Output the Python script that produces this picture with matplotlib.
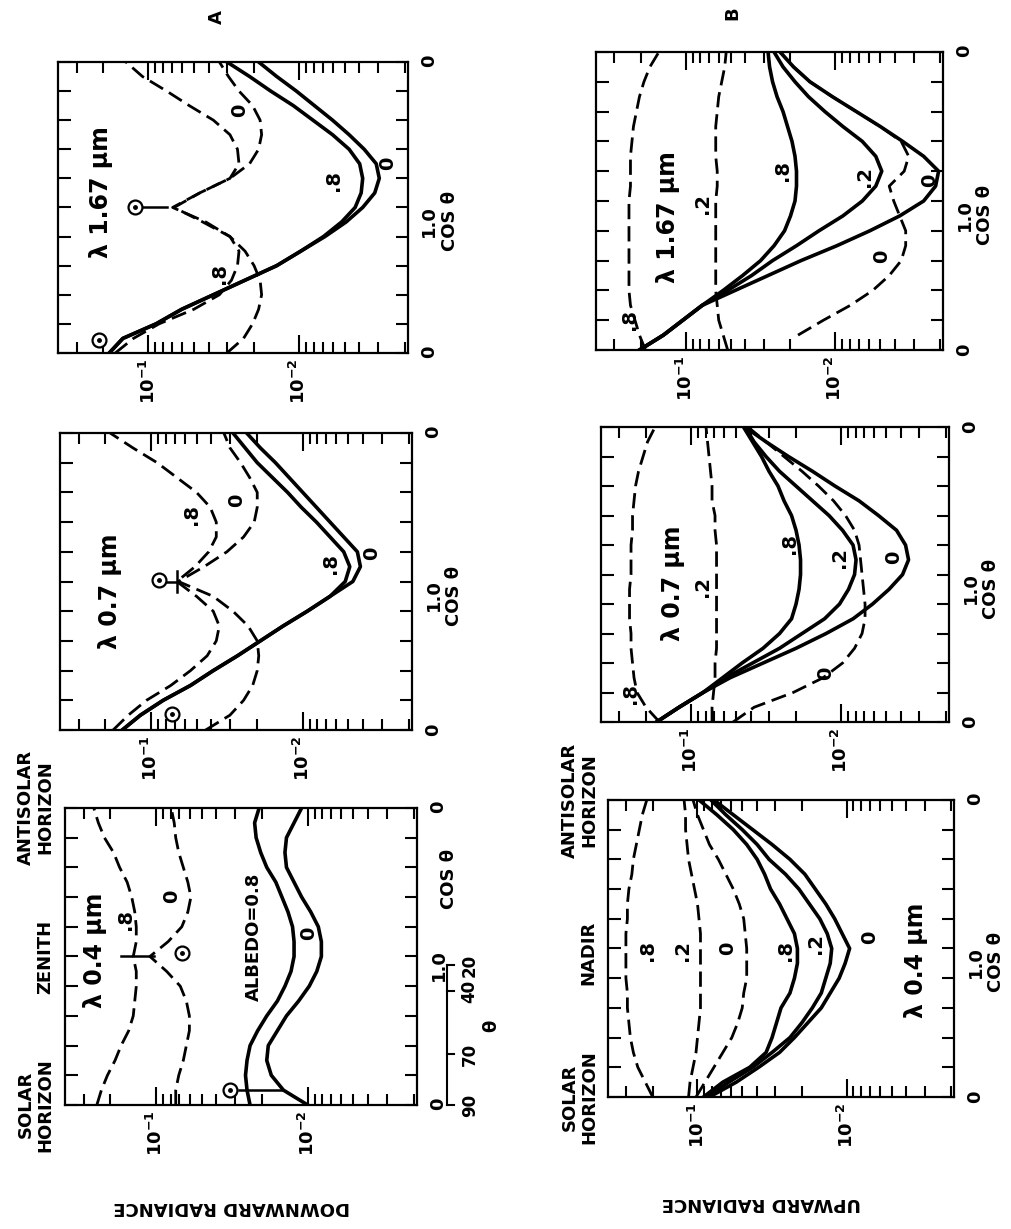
import numpy as np
import matplotlib
matplotlib.use('Agg')
import matplotlib.pyplot as plt
from matplotlib.ticker import LogLocator, MultipleLocator, NullFormatter

plt.rcParams['font.family'] = ['DejaVu Sans']
plt.rcParams['font.weight'] = 'bold'
plt.rcParams['mathtext.default'] = 'bf'

# position along the scan: 0 = solar horizon, 1 = zenith (nadir), 2 = antisolar horizon
pos = [0.0, 0.1, 0.2, 0.3, 0.4, 0.5, 0.6, 0.7, 0.8, 0.9, 1.0,
       1.1, 1.2, 1.3, 1.4, 1.5, 1.6, 1.7, 1.8, 1.9, 2.0]

# ---- A: downward radiance, log10 values ----
dn167_dash8 = [-0.78, -0.90, -1.07, -1.30, -1.47, -1.55, -1.59, -1.60, -1.54, -1.38, -1.16,
               -1.34, -1.54, -1.60, -1.59, -1.54, -1.43, -1.27, -1.12, -0.96, -0.85]
dn167_dash0 = [-1.52, -1.63, -1.69, -1.73, -1.75, -1.74, -1.70, -1.64, -1.54, -1.36, -1.17,
               -1.34, -1.54, -1.67, -1.73, -1.75, -1.74, -1.69, -1.60, -1.53, -1.47]
dn167_line8 = [-0.74, -0.83, -1.05, -1.22, -1.43, -1.64, -1.85, -2.01, -2.16, -2.28, -2.37,
               -2.41, -2.42, -2.40, -2.33, -2.22, -2.09, -1.96, -1.81, -1.67, -1.52]
dn167_line0 = [-0.74, -0.83, -1.05, -1.22, -1.43, -1.64, -1.85, -2.01, -2.17, -2.31, -2.42,
               -2.50, -2.53, -2.51, -2.43, -2.33, -2.22, -2.10, -1.98, -1.85, -1.73]

dn07_dash8 = [-0.75, -0.85, -0.97, -1.13, -1.26, -1.37, -1.43, -1.45, -1.41, -1.30, -1.17,
              -1.29, -1.38, -1.43, -1.43, -1.39, -1.30, -1.17, -1.04, -0.88, -0.73]
dn07_dash0 = [-1.36, -1.52, -1.61, -1.67, -1.70, -1.71, -1.70, -1.64, -1.54, -1.41, -1.18,
              -1.35, -1.50, -1.61, -1.68, -1.70, -1.70, -1.65, -1.59, -1.52, -1.48]
dn07_line8 = [-0.81, -0.93, -1.08, -1.26, -1.41, -1.57, -1.72, -1.87, -2.03, -2.18, -2.28,
              -2.31, -2.27, -2.18, -2.09, -1.99, -1.90, -1.80, -1.70, -1.62, -1.54]
dn07_line0 = [-0.81, -0.93, -1.08, -1.26, -1.41, -1.57, -1.72, -1.87, -2.03, -2.18, -2.33,
              -2.38, -2.36, -2.27, -2.18, -2.09, -2.00, -1.91, -1.82, -1.72, -1.63]

dn04_dash8 = [-0.61, -0.64, -0.68, -0.73, -0.77, -0.82, -0.85, -0.86, -0.87, -0.87, -0.85,
              -0.87, -0.87, -0.86, -0.84, -0.81, -0.76, -0.72, -0.66, -0.62, -0.59]
dn04_dash0 = [-1.13, -1.13, -1.15, -1.18, -1.20, -1.22, -1.22, -1.20, -1.16, -1.07, -0.96,
              -1.08, -1.17, -1.21, -1.23, -1.21, -1.18, -1.15, -1.13, -1.12, -1.10]
dn04_line8 = [-1.62, -1.60, -1.59, -1.60, -1.62, -1.67, -1.73, -1.80, -1.85, -1.89, -1.91,
              -1.91, -1.90, -1.87, -1.83, -1.79, -1.73, -1.69, -1.66, -1.65, -1.68]
dn04_line0 = [-2.00, -1.84, -1.76, -1.73, -1.74, -1.80, -1.86, -1.94, -2.01, -2.06, -2.09,
              -2.09, -2.07, -2.02, -1.96, -1.91, -1.86, -1.85, -1.86, -1.91, -1.96]

# sun positions (position, log10 radiance) and the short bars to the curves
sun167_pos = [0.09, 1.0]
sun167_log = [-0.67, -0.91]
bar167_log = [-0.96, -1.12]
sun07_pos = [0.11, 1.01]
sun07_log = [-1.14, -1.05]
bar07_log = [-1.08, -1.17]
sun04_pos = [0.10, 1.02]
sun04_log = [-1.49, -1.17]
bar04_log = [-0.77, -0.99]
bar04b_log = [-1.55, -1.84]

# ---- B: upward radiance, log10 values ----
up167_dash8 = [-0.73, -0.69, -0.66, -0.63, -0.62, -0.62, -0.62, -0.62, -0.62, -0.62, -0.62,
               -0.63, -0.63, -0.63, -0.64, -0.65, -0.67, -0.69, -0.72, -0.76, -0.82]
up167_dash2 = [-1.28, -1.25, -1.22, -1.21, -1.20, -1.20, -1.20, -1.20, -1.20, -1.20, -1.20,
               -1.21, -1.21, -1.20, -1.20, -1.20, -1.21, -1.22, -1.24, -1.26, -1.27]
up167_dash0 = [np.nan, -1.75, -1.92, -2.10, -2.25, -2.36, -2.44, -2.47, -2.47, -2.43, -2.39,
               -2.36, -2.46, -2.49, -2.44, -2.30, -2.14, -1.98, -1.83, -1.72, -1.63]
up167_line8 = [-0.69, -0.85, -0.98, -1.11, -1.25, -1.38, -1.50, -1.59, -1.66, -1.70, -1.73,
               -1.74, -1.74, -1.73, -1.71, -1.68, -1.65, -1.61, -1.58, -1.56, -1.55]
up167_line2 = [-0.69, -0.85, -0.98, -1.11, -1.28, -1.44, -1.58, -1.74, -1.89, -2.05, -2.18,
               -2.27, -2.31, -2.27, -2.18, -2.05, -1.93, -1.82, -1.73, -1.65, -1.59]
up167_line0 = [-0.69, -0.85, -0.98, -1.11, -1.33, -1.55, -1.77, -2.01, -2.23, -2.43, -2.59,
               -2.67, -2.69, -2.59, -2.45, -2.30, -2.14, -1.98, -1.83, -1.72, -1.63]

up07_dash8 = [-0.79, -0.70, -0.64, -0.62, -0.61, -0.60, -0.60, -0.59, -0.59, -0.59, -0.60,
              -0.60, -0.60, -0.61, -0.61, -0.62, -0.63, -0.65, -0.68, -0.71, -0.76]
up07_dash2 = [-1.14, -1.14, -1.15, -1.16, -1.16, -1.17, -1.17, -1.17, -1.17, -1.17, -1.17,
              -1.17, -1.17, -1.16, -1.16, -1.14, -1.14, -1.13, -1.12, -1.11, -1.10]
up07_dash0 = [-1.28, -1.42, -1.68, -1.88, -2.01, -2.09, -2.14, -2.16, -2.16, -2.15, -2.14,
              -2.13, -2.12, -2.09, -2.03, -1.95, -1.85, -1.74, -1.62, -1.50, -1.38]
up07_line8 = [-0.77, -0.92, -1.08, -1.21, -1.34, -1.48, -1.59, -1.67, -1.70, -1.72, -1.73,
              -1.73, -1.72, -1.70, -1.67, -1.62, -1.58, -1.52, -1.47, -1.41, -1.35]
up07_line2 = [-0.77, -0.92, -1.08, -1.23, -1.41, -1.59, -1.74, -1.89, -1.99, -2.05, -2.09,
              -2.10, -2.08, -2.01, -1.92, -1.81, -1.70, -1.59, -1.50, -1.42, -1.36]
up07_line0 = [-0.77, -0.92, -1.08, -1.26, -1.48, -1.70, -1.90, -2.08, -2.21, -2.32, -2.41,
              -2.45, -2.43, -2.37, -2.25, -2.12, -1.96, -1.81, -1.65, -1.50, -1.36]

up04_dash8 = [-0.70, -0.65, -0.60, -0.57, -0.55, -0.54, -0.53, -0.53, -0.52, -0.52, -0.52,
              -0.52, -0.53, -0.53, -0.54, -0.56, -0.57, -0.59, -0.61, -0.63, -0.66]
up04_dash2 = [-0.94, -0.95, -0.97, -0.99, -1.00, -1.01, -1.02, -1.02, -1.02, -1.02, -1.02,
              -1.02, -1.01, -1.00, -0.98, -0.96, -0.94, -0.93, -0.92, -0.92, -0.91]
up04_dash0 = [-0.99, -1.05, -1.11, -1.17, -1.23, -1.27, -1.30, -1.31, -1.33, -1.33, -1.33,
              -1.32, -1.31, -1.28, -1.24, -1.19, -1.14, -1.08, -1.04, -1.00, -0.97]
up04_line8 = [-1.04, -1.17, -1.35, -1.46, -1.50, -1.53, -1.56, -1.62, -1.65, -1.67, -1.67,
              -1.65, -1.60, -1.55, -1.49, -1.45, -1.40, -1.33, -1.24, -1.13, -1.01]
up04_line2 = [-1.06, -1.21, -1.37, -1.50, -1.62, -1.70, -1.77, -1.83, -1.86, -1.89, -1.90,
              -1.87, -1.82, -1.75, -1.68, -1.59, -1.48, -1.40, -1.30, -1.19, -1.09]
up04_line0 = [-1.08, -1.26, -1.41, -1.55, -1.65, -1.74, -1.83, -1.89, -1.95, -1.99, -2.02,
              -1.97, -1.92, -1.86, -1.79, -1.72, -1.62, -1.50, -1.37, -1.24, -1.11]

theta_ticks = [90, 70, 40, 20]

DASH = (0, (5.5, 2.5))
fig = plt.figure(figsize=(10.12, 12.29), dpi=100)


def panel(rect, solids, dashes, labels, cos_labels=('0', '1.0\nCOS θ', '0')):
    ax = fig.add_axes(rect)
    for v in dashes:
        ax.plot(10 ** np.array(v), pos, color='black', lw=2.0, ls=DASH)
    for v in solids:
        ax.plot(10 ** np.array(v), pos, color='black', lw=2.6)
    ax.set_xscale('log')
    ax.set_xlim(10 ** -0.4, 10 ** -2.72)
    ax.set_ylim(0, 2)
    ax.set_xticks([1e-1, 1e-2], labels=[r'$10^{-1}$', r'$10^{-2}$'])
    ax.xaxis.set_minor_locator(LogLocator(base=10, subs=np.arange(2, 10)))
    ax.xaxis.set_minor_formatter(NullFormatter())
    ax.set_yticks([0, 1, 2], labels=list(cos_labels))
    ax.yaxis.set_minor_locator(MultipleLocator(0.2))
    ax.tick_params(axis='both', which='both', direction='in', top=True, right=True,
                   width=1.5, colors='black')
    ax.tick_params(axis='x', which='major', length=13, labelsize=13, labelrotation=90, pad=4)
    ax.tick_params(axis='x', which='minor', length=8)
    ax.tick_params(axis='y', which='both', length=9, left=True, right=True,
                   labelleft=False, labelright=True, labelsize=13, labelrotation=90, pad=9)
    for lab in ax.get_yticklabels():
        lab.set_multialignment('center')
    for s in ax.spines.values():
        s.set_linewidth(1.6)
    for txt, fx, fy, size in labels:
        ax.text(fx, fy, txt, transform=ax.transAxes, rotation=90, fontsize=size,
                ha='center', va='center', fontweight='bold')
    return ax


def suns(ax, p, v):
    ax.plot(10 ** np.array(v), p, ls='none', marker='o', ms=10, mfc='white',
            mec='black', mew=1.6, clip_on=False, zorder=5)
    ax.plot(10 ** np.array(v), p, ls='none', marker='o', ms=2.5, color='black',
            clip_on=False, zorder=6)


# ---- A column ----
a1 = panel([0.0573, 0.7128, 0.3458, 0.2368],
           [dn167_line8, dn167_line0], [dn167_dash8, dn167_dash0],
           [('λ 1.67 μm', 0.124, 0.554, 17), ('.8', 0.462, 0.274, 14), ('0', 0.519, 0.834, 14),
            ('.8', 0.786, 0.594, 14), ('0', 0.943, 0.651, 14)])
suns(a1, sun167_pos, sun167_log)
a1.plot(10 ** np.array(bar167_log), [1.0, 1.0], color='black', lw=1.8)

a2 = panel([0.0593, 0.4060, 0.3478, 0.2417],
           [dn07_line8, dn07_line0], [dn07_dash8, dn07_dash0],
           [('λ 0.7 μm', 0.142, 0.466, 17), ('.8', 0.374, 0.725, 14), ('0', 0.502, 0.775, 14),
            ('.8', 0.768, 0.562, 14), ('0', 0.886, 0.596, 14)])
suns(a2, sun07_pos, sun07_log)
a2.plot(10 ** np.array(bar07_log), [1.0, 1.0], color='black', lw=1.8)
a2.plot(10 ** np.array([bar07_log[1]] * 2), [0.93, 1.07], color='black', lw=1.8)

a3 = panel([0.0642, 0.1009, 0.3478, 0.2417],
           [dn04_line8, dn04_line0], [dn04_dash8, dn04_dash0],
           [('λ 0.4 μm', 0.085, 0.522, 17), ('.8', 0.171, 0.623, 14), ('0', 0.303, 0.701, 14),
            ('ALBEDO=0.8', 0.536, 0.567, 13), ('0', 0.692, 0.578, 14)],
           cos_labels=('0', '1.0', '0'))
suns(a3, sun04_pos, sun04_log)
a3.plot(10 ** np.array(bar04_log), [1.0, 1.0], color='black', lw=1.8)
a3.plot(10 ** np.array(bar04b_log), [0.1, 0.1], color='black', lw=1.8)
a3.text(1.09, 1.52, 'COS θ', transform=a3.get_yaxis_transform(), rotation=90,
        fontsize=13, ha='center', va='center')
# theta scale beside the cos axis
tp = np.cos(np.radians(theta_ticks))
tr = a3.get_yaxis_transform()
a3.plot([1.085, 1.085], [0, tp[-1]], transform=tr, clip_on=False, color='black', lw=1.5)
for t, lab in zip(tp, theta_ticks):
    a3.plot([1.085, 1.105], [t, t], transform=tr, clip_on=False, color='black', lw=1.5)
    a3.text(1.15, t, str(lab), transform=tr, rotation=90, fontsize=12,
            ha='center', va='center')
a3.text(1.21, 0.53, 'θ', transform=tr, rotation=90, fontsize=13, ha='center', va='center')

# ---- B column ----
panel([0.5890, 0.7152, 0.3429, 0.2425],
      [up167_line8, up167_line2, up167_line0], [up167_dash8, up167_dash2, up167_dash0],
      [('λ 1.67 μm', 0.207, 0.447, 17), ('.2', 0.308, 0.492, 14), ('.8', 0.096, 0.101, 14),
       ('.8', 0.538, 0.603, 14), ('.2', 0.774, 0.581, 14), ('0', 0.962, 0.570, 14),
       ('0', 0.822, 0.313, 14)])

panel([0.5939, 0.4125, 0.3439, 0.2400],
      [up07_line8, up07_line2, up07_line0], [up07_dash8, up07_dash2, up07_dash0],
      [('λ 0.7 μm', 0.206, 0.469, 17), ('.2', 0.292, 0.458, 14), ('.8', 0.086, 0.096, 14),
       ('.8', 0.541, 0.605, 14), ('.2', 0.684, 0.559, 14), ('0', 0.842, 0.559, 14),
       ('0', 0.646, 0.164, 14)])

panel([0.6008, 0.1074, 0.3419, 0.2417],
      [up04_line8, up04_line2, up04_line0], [up04_dash8, up04_dash2, up04_dash0],
      [('.8', 0.115, 0.494, 14), ('.2', 0.216, 0.494, 14), ('0', 0.346, 0.500, 14),
       ('.8', 0.514, 0.494, 14), ('.2', 0.601, 0.517, 14), ('0', 0.755, 0.539, 14),
       ('λ 0.4 μm', 0.889, 0.461, 17)])

# ---- figure texts ----
side = dict(rotation=90, fontsize=13, ha='center', va='center', multialignment='center',
            linespacing=1.1)
fig.text(0.035, 0.101, 'SOLAR\nHORIZON', **side)
fig.text(0.045, 0.221, 'ZENITH', **side)
fig.text(0.035, 0.343, 'ANTISOLAR\nHORIZON', **side)
fig.text(0.573, 0.107, 'SOLAR\nHORIZON', **side)
fig.text(0.581, 0.225, 'NADIR', **side)
fig.text(0.573, 0.349, 'ANTISOLAR\nHORIZON', **side)
fig.text(0.229, 0.018, 'DOWNWARD RADIANCE', rotation=180, fontsize=13, ha='center', va='center')
fig.text(0.752, 0.021, 'UPWARD RADIANCE', rotation=180, fontsize=13, ha='center', va='center')
fig.text(0.214, 0.986, 'A', rotation=90, fontsize=13, ha='center', va='center')
fig.text(0.724, 0.989, 'B', rotation=90, fontsize=13, ha='center', va='center')

fig.savefig('out.png', dpi=100)
